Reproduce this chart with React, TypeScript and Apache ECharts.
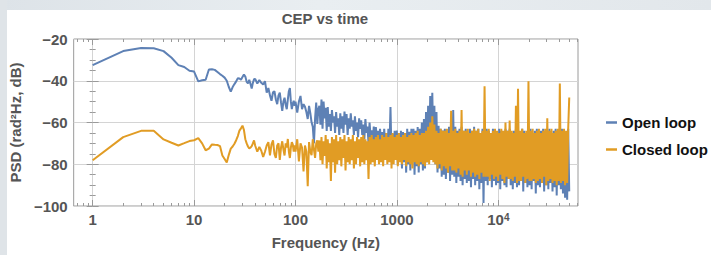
import React, { useEffect, useRef } from 'react';
import * as echarts from 'echarts';

const TITLE = 'CEP vs time';
const X_NAME = 'Frequency (Hz)';
const Y_NAME = 'PSD (rad²Hz, dB)';
const SERIES_NAMES = ['Open loop', 'Closed loop'];
const COLORS = ['#5E81B5', '#E19C24'];

const X_MIN_FREQ = 0.65;
const X_MAX_FREQ = 61000;
const X_TICK_FREQS = [1, 10, 100, 1000, 10000];
const X_TICK_LABELS = ['1', '10', '100', '1000', '{b|10}{s|4}'];
const X_MINOR_FREQS = [
  0.7, 0.8, 0.9, 2, 3, 4, 5, 6, 7, 8, 9, 20, 30, 40, 50, 60, 70, 80, 90,
  200, 300, 400, 500, 600, 700, 800, 900, 2000, 3000, 4000, 5000, 6000, 7000, 8000, 9000,
  20000, 30000, 40000, 50000, 60000,
];
const Y_MIN = -100;
const Y_MAX = -20;
const Y_STEP = 20;

// low-frequency bins (Hz)
const LOW_FREQS = [
  1, 2, 3, 4, 5, 6, 7, 8, 9, 10, 11, 12, 13, 14, 15, 16, 17, 18, 19, 20,
  21, 22, 23, 24, 25, 26, 27, 28, 29, 30, 31, 32, 33, 34, 35, 36, 37, 38, 39, 40,
  42, 44, 46, 48, 50, 52, 54, 56, 58, 60, 62, 64, 66, 68, 70, 72, 74, 76, 78, 80,
  82, 84, 86, 88, 90, 92, 94, 96, 98, 100,
  104, 108, 112, 116, 120, 124, 128, 132, 136, 140, 144, 148, 152, 156, 160, 164, 168,
];

const OPEN_LOW = [
  -32.5, -25.8, -24.3, -24.4, -25.8, -29.0, -32.5, -33.4, -35.2, -35.6,
  -40.3, -39.8, -39.5, -34.6, -34.5, -34.8, -35.8, -36.8, -37.6, -38.5,
  -40.0, -43.0, -45.2, -43.0, -41.6, -40.3, -38.8, -38.9, -39.5, -38.2,
  -37.0, -38.0, -40.5, -41.3, -39.6, -41.5, -43.7, -41.0, -39.3, -39.1,
  -41.3, -39.7, -41.0, -41.8, -40.2, -45.7, -43.5, -47.0, -49.6, -45.5,
  -45.0, -49.0, -51.2, -47.0, -45.7, -50.5, -54.4, -50.0, -48.1, -51.5,
  -53.6, -49.0, -45.0, -43.5, -50.0, -53.6, -51.0, -49.6, -52.0, -50.0,
  -55.2, -50.0, -47.3, -53.6, -51.2, -52.5, -55.0, -58.3, -52.0, -55.5,
  -59.9, -62.0, -70.0, -58.0, -50.4, -60.7, -53.6,
];

const CLOSED_LOW = [
  -78.1, -67.0, -64.0, -64.0, -68.1, -69.7, -71.0, -69.9, -68.9, -68.5,
  -67.5, -70.0, -73.3, -72.5, -70.5, -70.7, -70.8, -71.3, -75.8, -77.5,
  -79.2, -75.5, -72.5, -71.5, -70.2, -68.5, -66.5, -63.9, -62.8, -61.5,
  -63.5, -68.0, -70.0, -71.5, -72.5, -72.0, -71.3, -70.0, -68.6, -71.0,
  -74.0, -71.7, -73.5, -76.5, -74.0, -71.0, -69.4, -75.7, -70.5, -68.6,
  -75.0, -77.0, -71.0, -70.0, -77.9, -72.0, -69.0, -73.0, -75.8, -70.0,
  -72.0, -67.9, -74.0, -77.0, -72.0, -69.4, -70.5, -74.0, -71.0, -74.0,
  -68.0, -78.6, -70.0, -72.0, -83.4, -71.0, -74.0, -90.5, -69.4, -74.0,
  -75.7, -68.0, -73.0, -77.0, -70.0, -68.6, -74.0,
];

// dense high-frequency region: log-spaced sampling grid from 172 Hz to 50 kHz
const DENSE_F0 = 172;
const DENSE_F1 = 50000;

const OPEN_DENSE = [
  -52, -61, -49, -63, -50, -58, -53, -64, -52.6, -62,
  -56, -64, -54, -60, -57, -65, -55, -62, -58, -66,
  -55.6, -63, -57, -65, -54.8, -61, -56, -66, -58, -63,
  -55.6, -62, -59, -66, -57, -64, -60, -67, -58, -63,
  -59, -66, -61, -68, -58.3, -65, -62, -70, -60, -67,
  -63.8, -70, -62, -72, -62.2, -68, -64, -73, -63, -70,
  -64.6, -74, -63, -72, -65, -75, -63, -73, -52.6, -76,
  -65.3, -77, -64, -78, -63.8, -80, -65, -76, -64, -82,
  -64.6, -79, -65, -84, -63, -80, -64.5, -83, -63, -78,
  -63, -85, -64, -81, -62.2, -84, -63, -80, -60, -83,
  -58.3, -82, -55, -79, -52, -75, -47.3, -70, -45.7, -72,
  -52, -80, -55, -84, -61.6, -82, -63, -86, -63.8, -85,
  -63, -87, -64, -84, -62, -88, -63, -85, -54, -86,
  -62, -89, -64, -86, -63, -88, -62, -90, -64, -87,
  -63, -89, -65, -88, -63, -91, -64, -87, -62, -90,
  -64, -88, -63, -92, -65, -89, -63, -98.6, -64, -88,
  -63, -90, -64, -87, -65, -91, -63, -88, -64, -90,
  -65, -89, -63, -92, -64, -88, -65, -90, -63, -91,
  -64, -87, -63, -90, -65, -92, -64, -89, -63, -91,
  -64, -90, -65, -88, -63, -93, -64, -89, -65, -91,
  -64, -90, -63, -92, -65, -88, -64, -94, -63, -90,
  -65, -91, -64, -89, -63, -93, -65, -90, -64, -92,
  -63, -89, -65, -93, -64, -91, -63, -95, -64, -90,
  -65, -92, -63, -94, -64, -96, -65, -97, -63, -93,
];

const CLOSED_DENSE = [
  -68.6, -78, -67, -80, -69, -76, -66, -82, -68, -79,
  -70, -88, -67, -79, -68, -84, -66, -80, -69, -78,
  -67, -81, -68, -77, -66, -83, -69, -79, -67, -80,
  -68, -78, -66, -82, -69, -80, -67, -77, -68, -81,
  -67, -79, -66, -80, -68, -78, -69, -87, -67, -80,
  -66, -79, -68, -81, -67, -78, -66, -80, -68, -79,
  -66, -81, -67, -78, -65, -80, -67, -79, -66, -82,
  -65, -80, -67, -78, -66, -81, -65, -79, -67, -80,
  -66, -78, -65, -81, -67, -79, -66, -80, -65, -82,
  -66, -79, -65, -80, -64, -81, -66, -79, -65, -80,
  -65, -81, -64, -79, -62, -80, -60, -78, -57, -79,
  -61, -80, -64, -82, -65, -80, -63, -83, -64, -81,
  -64, -82, -63, -84, -65, -81, -54.4, -83, -64, -83,
  -63, -84, -65, -82, -64, -85, -54, -86, -64, -83,
  -64, -85, -63, -83, -65, -86, -64, -84, -63, -86,
  -64, -85, -63, -87, -65, -84, -64, -86, -42.6, -86,
  -64, -86, -63, -88, -65, -85, -64, -87, -63, -86,
  -64, -88, -65, -85, -63, -87, -64, -89, -60, -86,
  -64, -87, -59, -87, -64, -88, -65, -86, -52, -89,
  -43.8, -88, -64, -88, -63, -86, -65, -89, -64, -87,
  -40.2, -88, -64, -88, -63, -87, -65, -89, -64, -88,
  -63, -87, -65, -89, -64, -86, -63, -90, -58, -88,
  -64, -87, -63, -89, -65, -88, -64, -90, -63, -88,
  -41.3, -89, -64, -88, -63, -90, -64, -89, -63, -48,
];

const FONT = "'Liberation Sans', Arial, sans-serif";
const TEXT_GRAY = '#555555';
const FRAME = '#9a9a9a';
const GRID_LINE = '#d4d4d4';

const lg = (f: number) => Math.log10(f);

function buildSeries(lowVals: number[], denseVals: number[]) {
  const pts: number[][] = LOW_FREQS.map((f, i) => [lg(f), lowVals[i]]);
  const n = denseVals.length;
  for (let i = 0; i < n; i++) {
    const f = DENSE_F0 * Math.pow(DENSE_F1 / DENSE_F0, i / (n - 1));
    pts.push([lg(f), denseVals[i]]);
  }
  return pts;
}

export default function App() {
  const ref = useRef<HTMLDivElement>(null);

  useEffect(() => {
    if (!ref.current) return;
    const chart = echarts.init(ref.current, undefined, { renderer: 'svg' });
    const xMin = lg(X_MIN_FREQ);
    const xMax = lg(X_MAX_FREQ);
    const majorX = X_TICK_FREQS.map(lg);
    const minorX = X_MINOR_FREQS.map(lg);

    const xLabelFmt = (v: number) => {
      const idx = majorX.findIndex((m) => Math.abs(m - v) < 1e-6);
      return idx >= 0 ? X_TICK_LABELS[idx] : '';
    };

    const baseX = {
      type: 'value' as const,
      min: xMin,
      max: xMax,
      axisLine: { show: false },
      splitLine: { show: false },
      axisLabel: { show: false },
    };

    chart.setOption({
      animation: false,
      backgroundColor: '#ffffff',
      graphic: [
        {
          type: 'rect',
          z: -10,
          shape: { x: 0, y: 0, width: 711, height: 10 },
          style: {
            fill: new echarts.graphic.LinearGradient(0, 0, 1, 0, [
              { offset: 0, color: '#dde3e8' },
              { offset: 0.45, color: '#e9eef1' },
              { offset: 1, color: '#e2e7eb' },
            ]),
          },
        },
        {
          type: 'rect',
          z: -10,
          shape: { x: 0, y: 0, width: 7, height: 255 },
          style: { fill: '#dfe4e8' },
        },
      ],
      title: {
        text: TITLE,
        left: 325,
        top: 11,
        padding: 0,
        textAlign: 'center',
        textStyle: { fontFamily: FONT, fontSize: 15, fontWeight: 'bold', color: TEXT_GRAY },
      },
      legend: {
        orient: 'vertical',
        left: 601,
        top: 110,
        icon: 'rect',
        itemWidth: 11,
        itemHeight: 2.5,
        itemGap: 12,
        data: SERIES_NAMES,
        textStyle: { fontFamily: FONT, fontSize: 15, fontWeight: 'bold', color: '#111' },
      },
      grid: {
        left: 72,
        top: 39,
        width: 506,
        height: 169,
        show: true,
        borderColor: FRAME,
        borderWidth: 1,
        backgroundColor: 'transparent',
      },
      xAxis: [
        {
          ...baseX,
          position: 'bottom',
          name: X_NAME,
          nameLocation: 'middle',
          nameGap: 29,
          nameTextStyle: { fontFamily: FONT, fontSize: 15, fontWeight: 'bold', color: TEXT_GRAY },
          axisTick: {
            show: true,
            inside: true,
            length: 6,
            customValues: majorX,
            lineStyle: { color: FRAME },
          },
          axisLabel: {
            show: true,
            customValues: majorX,
            margin: 6,
            formatter: xLabelFmt,
            fontFamily: FONT,
            fontSize: 15,
            fontWeight: 'bold',
            color: TEXT_GRAY,
            rich: {
              b: { fontFamily: FONT, fontSize: 15, fontWeight: 'bold', color: TEXT_GRAY },
              s: {
                fontFamily: FONT,
                fontSize: 10,
                fontWeight: 'bold',
                color: TEXT_GRAY,
                verticalAlign: 'top',
                lineHeight: 10,
              },
            },
          },
          splitLine: { show: true, lineStyle: { color: GRID_LINE, width: 1 } },
        },
        {
          ...baseX,
          position: 'bottom',
          axisTick: { show: true, inside: true, length: 3, customValues: minorX, lineStyle: { color: FRAME } },
        },
        {
          ...baseX,
          position: 'top',
          axisTick: { show: true, inside: true, length: 6, customValues: majorX, lineStyle: { color: FRAME } },
        },
        {
          ...baseX,
          position: 'top',
          axisTick: { show: true, inside: true, length: 3, customValues: minorX, lineStyle: { color: FRAME } },
        },
      ],
      yAxis: [
        {
          type: 'value',
          position: 'left',
          min: Y_MIN,
          max: Y_MAX,
          interval: Y_STEP,
          name: Y_NAME,
          nameLocation: 'middle',
          nameGap: 48,
          nameTextStyle: { fontFamily: FONT, fontSize: 15, fontWeight: 'bold', color: TEXT_GRAY },
          axisLine: { show: false },
          axisTick: { show: true, inside: true, length: 6, lineStyle: { color: FRAME } },
          minorTick: { show: true, splitNumber: 4, length: 3, lineStyle: { color: FRAME } },
          axisLabel: {
            margin: 6,
            formatter: (v: number) => String(v).replace('-', '\u2212'),
            fontFamily: FONT,
            fontSize: 15,
            fontWeight: 'bold',
            color: TEXT_GRAY,
          },
          splitLine: { show: true, lineStyle: { color: GRID_LINE, width: 1 } },
        },
        {
          type: 'value',
          position: 'right',
          min: Y_MIN,
          max: Y_MAX,
          interval: Y_STEP,
          axisLine: { show: false },
          axisTick: { show: true, inside: true, length: 6, lineStyle: { color: FRAME } },
          minorTick: { show: true, splitNumber: 4, length: 3, lineStyle: { color: FRAME } },
          axisLabel: { show: false },
          splitLine: { show: false },
        },
      ],
      series: [
        {
          name: SERIES_NAMES[0],
          type: 'line',
          xAxisIndex: 0,
          yAxisIndex: 0,
          data: buildSeries(OPEN_LOW, OPEN_DENSE),
          showSymbol: false,
          symbol: 'none',
          color: COLORS[0],
          lineStyle: { color: COLORS[0], width: 2 },
          z: 2,
        },
        {
          name: SERIES_NAMES[1],
          type: 'line',
          xAxisIndex: 0,
          yAxisIndex: 0,
          data: buildSeries(CLOSED_LOW, CLOSED_DENSE),
          showSymbol: false,
          symbol: 'none',
          color: COLORS[1],
          lineStyle: { color: COLORS[1], width: 2 },
          z: 3,
        },
      ],
    });
    return () => chart.dispose();
  }, []);

  return (
    <div
      ref={ref}
      style={{ position: 'fixed', left: 0, top: 0, width: 711, height: 255, background: '#fff' }}
    />
  );
}
